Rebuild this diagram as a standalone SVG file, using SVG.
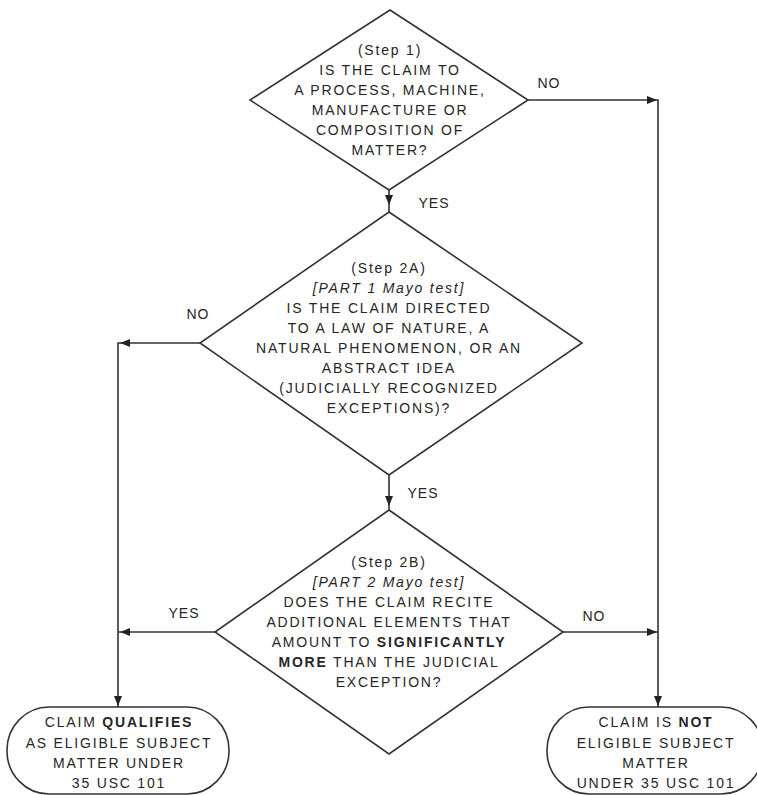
<svg xmlns="http://www.w3.org/2000/svg" width="757" height="795" viewBox="0 0 757 795">
<style>
.shape{fill:none;stroke:#333;stroke-width:1.6}
.conn{fill:none;stroke:#333;stroke-width:1.6}
.ah{fill:#222}
text{font-family:"Liberation Sans",Arial,sans-serif;font-size:14px;fill:#262626;text-anchor:middle;letter-spacing:1.8px}
.lbl{letter-spacing:1px}
.it{font-style:italic}
.b{font-weight:bold}
</style>
<defs>
<polygon id="ahDown" class="ah" points="0,0 -4,-10 4,-10"/>
<polygon id="ahLeft" class="ah" points="0,0 10,-4 10,4"/>
<polygon id="ahRight" class="ah" points="0,0 -10,-4 -10,4"/>
</defs>
<rect width="757" height="795" fill="#fff"/>
<g id="connectors">
<path class="conn" d="M389,190 V212"/>
<use href="#ahDown" x="389" y="205"/>
<path class="conn" d="M389,475 V510"/>
<use href="#ahDown" x="389" y="506"/>
<path class="conn" d="M528,100 H658 V707"/>
<use href="#ahRight" x="657" y="100"/>
<use href="#ahDown" x="658" y="706"/>
<path class="conn" d="M200,343 H118 V707"/>
<use href="#ahLeft" x="120" y="343"/>
<use href="#ahDown" x="118" y="706"/>
<path class="conn" d="M215,632 H118"/>
<use href="#ahLeft" x="120" y="632"/>
<path class="conn" d="M563,632 H658"/>
<use href="#ahRight" x="657" y="632"/>
<text class="lbl" x="549" y="88">NO</text>
<text class="lbl" x="434" y="208">YES</text>
<text class="lbl" x="198" y="319">NO</text>
<text class="lbl" x="423" y="498">YES</text>
<text class="lbl" x="184" y="618">YES</text>
<text class="lbl" x="594" y="621">NO</text>
</g>
<g id="step1">
<polygon class="shape" points="390,10 528,100 389,190 250,100"/>
<text x="390" y="55">(Step 1)</text>
<text x="390" y="75">IS THE CLAIM TO</text>
<text x="390" y="95">A PROCESS, MACHINE,</text>
<text x="390" y="115">MANUFACTURE OR</text>
<text x="390" y="135">COMPOSITION OF</text>
<text x="390" y="155">MATTER?</text>
</g>
<g id="step2a">
<polygon class="shape" points="389,212 582,343 389,475 200,343"/>
<text x="389" y="273">(Step 2A)</text>
<text class="it" x="389" y="293">[PART 1 Mayo test]</text>
<text x="389" y="313">IS THE CLAIM DIRECTED</text>
<text x="389" y="333">TO A LAW OF NATURE, A</text>
<text x="389" y="353">NATURAL PHENOMENON, OR AN</text>
<text x="389" y="373">ABSTRACT IDEA</text>
<text x="389" y="393">(JUDICIALLY RECOGNIZED</text>
<text x="389" y="413">EXCEPTIONS)?</text>
</g>
<g id="step2b">
<polygon class="shape" points="389,510 563,632 389,754 215,632"/>
<text x="389" y="567">(Step 2B)</text>
<text class="it" x="389" y="587">[PART 2 Mayo test]</text>
<text x="389" y="607">DOES THE CLAIM RECITE</text>
<text x="389" y="627">ADDITIONAL ELEMENTS THAT</text>
<text x="389" y="647">AMOUNT TO <tspan class="b">SIGNIFICANTLY</tspan></text>
<text x="389" y="667"><tspan class="b">MORE</tspan> THAN THE JUDICIAL</text>
<text x="389" y="687">EXCEPTION?</text>
</g>
<g id="qualifies">
<rect class="shape" x="7" y="707" width="222" height="87" rx="42" ry="43" fill="#fff" style="fill:#fff"/>
<text x="119" y="727">CLAIM <tspan class="b">QUALIFIES</tspan></text>
<text x="119" y="748">AS ELIGIBLE SUBJECT</text>
<text x="119" y="768">MATTER UNDER</text>
<text x="119" y="788">35 USC 101</text>
</g>
<g id="not-eligible">
<rect class="shape" x="547" y="707" width="216" height="87" rx="42" ry="43" style="fill:#fff"/>
<text x="656" y="727">CLAIM IS <tspan class="b">NOT</tspan></text>
<text x="656" y="748">ELIGIBLE SUBJECT</text>
<text x="656" y="768">MATTER</text>
<text x="656" y="788">UNDER 35 USC 101</text>
</g>
</svg>
